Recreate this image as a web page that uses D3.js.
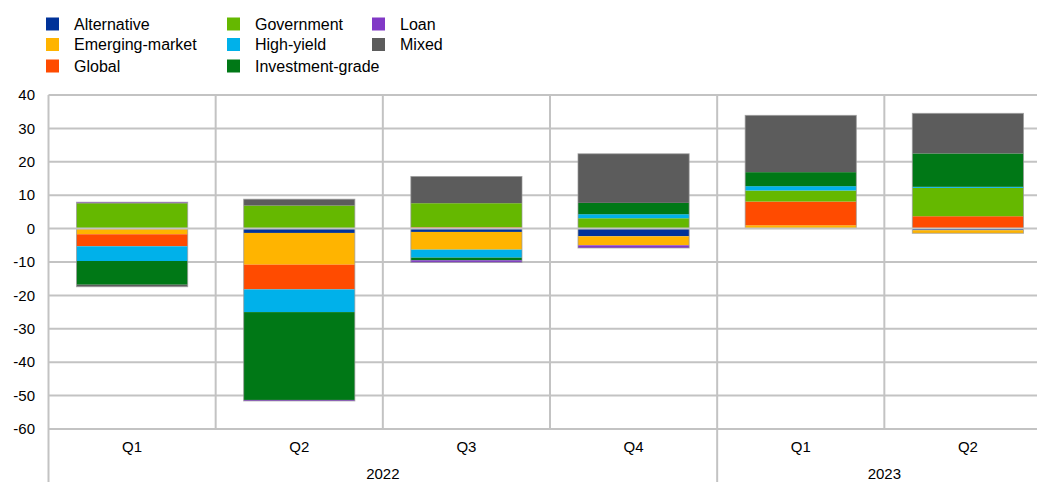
<!DOCTYPE html>
<html><head><meta charset="utf-8">
<script src="https://cdn.jsdelivr.net/npm/d3@7"></script>
<style>body{margin:0;background:#fff}svg{display:block;font-family:"Liberation Sans",Arial,sans-serif}</style>
</head><body><svg id="c" width="1037" height="482"></svg>
<script>
const quarters = ["Q1","Q2","Q3","Q4","Q1","Q2"];
const years = ["2022","2022","2022","2022","2023","2023"];
const seriesNames = ["Alternative","Emerging-market","Global","Government","High-yield","Investment-grade","Loan","Mixed"];
const alternative = [0, -1.3, -1.0, -2.3, 0, -0.5];
const emergingMarket = [-1.7, -9.5, -5.3, -2.7, 1.0, -0.9];
const global = [-3.6, -7.4, 0.4, 0, 7.1, 3.7];
const government = [7.6, 6.9, 7.2, 3.1, 3.3, 8.5];
const highYield = [-4.4, -6.8, -2.4, 1.2, 1.3, 0.3];
const investmentGrade = [-7.1, -26.3, -0.8, 3.4, 4.2, 10.0];
const loan = [0.3, -0.3, -0.6, -0.8, 0, 0];
const mixed = [-0.6, 1.9, 8.0, 14.7, 17.0, 12.0];
const yTicks = [40,30,20,10,0,-10,-20,-30,-40,-50,-60];
const colors = ["#003299","#FFB400","#FF4B00","#65B800","#00B1EA","#007816","#8139C6","#5C5C5C"];

const seriesValues = [alternative, emergingMarket, global, government, highYield, investmentGrade, loan, mixed];
const rows = quarters.map((q,i)=>{const r={idx:i}; seriesNames.forEach((s,j)=>r[s]=seriesValues[j][i]); return r;});

const svg = d3.select("#c");
const grid = "#c3c3c3";
const x = d3.scaleBand().domain(d3.range(6)).range([48.5, 1051.5]);
const y = d3.scaleLinear().domain([-60,40]).range([429,95]);
const bw = x.bandwidth()*0.665;

// horizontal grid
svg.append("g").selectAll("line").data(yTicks.filter(t=>t!==0)).join("line")
  .attr("x1",48.5).attr("x2",1037).attr("y1",d=>y(d)).attr("y2",d=>y(d))
  .attr("stroke",grid).attr("stroke-width",2);
// vertical grid (category separators)
svg.append("g").selectAll("line").data(d3.range(1,6)).join("line")
  .attr("x1",d=>x(d)).attr("x2",d=>x(d)).attr("y1",y(40)).attr("y2",y(-60))
  .attr("stroke",grid).attr("stroke-width",2);
// left axis line and year separators
svg.append("line").attr("x1",x(0)).attr("x2",x(0)).attr("y1",y(40)).attr("y2",482).attr("stroke",grid).attr("stroke-width",2);
svg.append("line").attr("x1",x(4)).attr("x2",x(4)).attr("y1",y(-60)).attr("y2",482).attr("stroke",grid).attr("stroke-width",2);

// stacks
const stack = d3.stack().keys(seriesNames).offset(d3.stackOffsetDiverging);
const stacked = stack(rows);
svg.append("g").selectAll("g").data(stacked).join("g")
  .attr("fill",(d,i)=>colors[i])
  .selectAll("rect").data(d=>d).join("rect")
  .attr("x",d=>x(d.data.idx)+(x.bandwidth()-bw)/2)
  .attr("width",bw)
  .attr("y",d=>y(Math.max(d[0],d[1])))
  .attr("height",d=>Math.abs(y(d[0])-y(d[1])));

// outlines
const pos = rows.map(r=>({i:r.idx, top:d3.sum(seriesNames,s=>Math.max(0,r[s])), bot:d3.sum(seriesNames,s=>Math.min(0,r[s]))}));
svg.append("g").selectAll("rect").data(pos.filter(p=>p.top>0)).join("rect")
  .attr("x",d=>x(d.i)+(x.bandwidth()-bw)/2).attr("width",bw)
  .attr("y",d=>y(d.top)).attr("height",d=>y(0)-y(d.top))
  .attr("fill","none").attr("stroke","#999").attr("stroke-opacity",0.7).attr("stroke-width",1);
svg.append("g").selectAll("rect").data(pos.filter(p=>p.bot<0)).join("rect")
  .attr("x",d=>x(d.i)+(x.bandwidth()-bw)/2).attr("width",bw)
  .attr("y",y(0)).attr("height",d=>y(d.bot)-y(0))
  .attr("fill","none").attr("stroke","#999").attr("stroke-opacity",0.7).attr("stroke-width",1);

// zero line and bottom axis line on top
svg.append("line").attr("x1",48.5).attr("x2",1037).attr("y1",y(0)).attr("y2",y(0)).attr("stroke",grid).attr("stroke-width",2);
svg.append("line").attr("x1",48.5).attr("x2",1037).attr("y1",y(-60)).attr("y2",y(-60)).attr("stroke",grid).attr("stroke-width",2);

// y labels
svg.append("g").selectAll("text").data(yTicks).join("text")
  .attr("x",35).attr("y",d=>y(d)).attr("dy","0.35em").attr("text-anchor","end")
  .attr("font-size",15).attr("fill","#000").text(d=>d);

// x labels
svg.append("g").selectAll("text").data(quarters).join("text")
  .attr("x",(d,i)=>x(i)+x.bandwidth()/2).attr("y",452).attr("text-anchor","middle")
  .attr("font-size",15).attr("fill","#000").text(d=>d);
const yearGroups = d3.groups(d3.range(6), i=>years[i]);
svg.append("g").selectAll("text").data(yearGroups).join("text")
  .attr("x",d=>(x(d[1][0])+x(d[1][d[1].length-1])+x.bandwidth())/2).attr("y",479).attr("text-anchor","middle")
  .attr("font-size",15).attr("fill","#000").text(d=>d[0]);

// legend
const legendCols = [[0,1,2],[3,4,5],[6,7]];
const colX = [46, 227, 372];
const rowY = [24, 44.5, 66];
legendCols.forEach((col,ci)=>col.forEach((si,ri)=>{
  svg.append("rect").attr("x",colX[ci]).attr("y",rowY[ri]-6.5).attr("width",13).attr("height",13).attr("fill",colors[si]);
  svg.append("text").attr("x",colX[ci]+28).attr("y",rowY[ri]).attr("dy","0.35em")
    .attr("font-size",16).attr("fill","#000").text(seriesNames[si]);
}));
</script></body></html>
